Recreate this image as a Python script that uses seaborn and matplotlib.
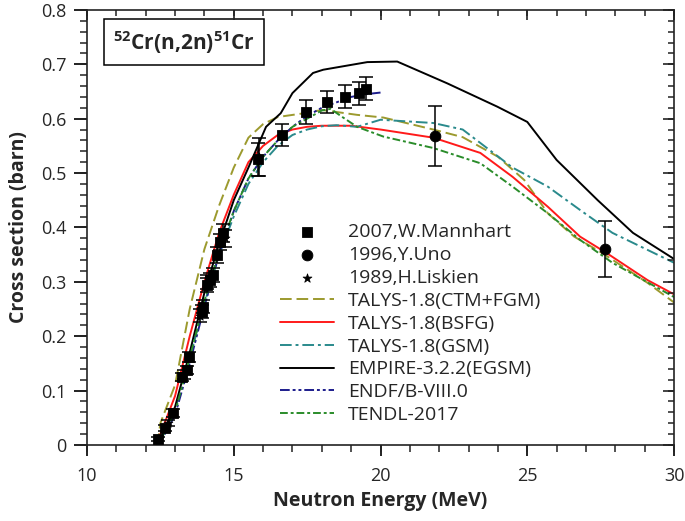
import numpy as np
import pandas as pd
import matplotlib
matplotlib.use("Agg")
import matplotlib.pyplot as plt
from matplotlib.collections import LineCollection
import seaborn as sns

# experimental data (MeV, barn)
mannhart_E = [12.42, 12.66, 12.93, 13.24, 13.41, 13.48, 13.92, 13.96, 14.09, 14.19, 14.30,
              14.43, 14.53, 14.63, 15.82, 16.65, 17.45, 18.18, 18.80, 19.28, 19.50]
mannhart_s = [0.011, 0.031, 0.059, 0.125, 0.138, 0.162, 0.245, 0.254, 0.294, 0.303, 0.313,
              0.349, 0.373, 0.390, 0.525, 0.570, 0.612, 0.630, 0.640, 0.647, 0.655]
mannhart_err = [0.004, 0.006, 0.007, 0.008, 0.008, 0.009, 0.012, 0.012, 0.013, 0.013, 0.013,
                0.015, 0.015, 0.016, 0.030, 0.021, 0.022, 0.020, 0.021, 0.021, 0.021]

uno_E = [21.85, 27.65]
uno_s = [0.568, 0.360]
uno_err = [0.055, 0.052]

liskien_E = [12.75, 13.30, 13.85, 14.10, 14.70, 15.85]
liskien_s = [0.040, 0.130, 0.238, 0.300, 0.380, 0.530]
liskien_err = [0.005, 0.008, 0.012, 0.013, 0.016, 0.035]

# evaluated curves
ctm_E = [12.4, 12.5, 13.0, 13.5, 14.0, 14.5, 15.0, 15.5, 16.0, 16.5, 17.4, 18.0, 19.2, 20.1,
         21.8, 22.8, 24.0, 24.9, 25.7, 26.6, 27.55, 29.1, 30.0]
ctm_s = [0.0, 0.04, 0.11, 0.25, 0.36, 0.44, 0.51, 0.565, 0.59, 0.603, 0.61, 0.616, 0.607, 0.602,
         0.58, 0.566, 0.53, 0.487, 0.426, 0.383, 0.353, 0.298, 0.262]

bsfg_E = [12.4, 12.5, 13.0, 13.5, 14.0, 14.5, 15.0, 15.5, 16.0, 16.5, 17.0, 17.5, 18.0, 19.0,
          20.0, 21.8, 23.4, 24.5, 25.7, 26.8, 27.7, 29.1, 30.0]
bsfg_s = [0.0, 0.02, 0.09, 0.20, 0.30, 0.39, 0.46, 0.52, 0.55, 0.57, 0.58, 0.585, 0.587, 0.587,
          0.580, 0.565, 0.537, 0.493, 0.438, 0.383, 0.353, 0.303, 0.277]

gsm_E = [12.4, 12.5, 13.0, 13.5, 14.0, 14.5, 15.0, 15.5, 16.0, 16.5, 17.0, 17.5, 18.0, 18.5,
         19.2, 20.0, 21.8, 22.8, 24.5, 25.7, 26.8, 27.9, 30.0]
gsm_s = [0.0, 0.01, 0.065, 0.16, 0.26, 0.35, 0.42, 0.48, 0.52, 0.55, 0.57, 0.58, 0.586, 0.588,
         0.585, 0.598, 0.592, 0.58, 0.51, 0.475, 0.432, 0.39, 0.335]

empire_E = [12.4, 12.5, 13.0, 13.5, 14.0, 14.5, 15.0, 15.5, 16.1, 16.6, 17.0, 17.7, 18.05, 19.55,
            20.57, 22.27, 23.98, 25.0, 26.0, 27.4, 28.6, 30.0]
empire_s = [0.0, 0.01, 0.07, 0.17, 0.28, 0.37, 0.45, 0.51, 0.585, 0.61, 0.647, 0.684, 0.69, 0.704,
            0.705, 0.665, 0.622, 0.594, 0.524, 0.45, 0.39, 0.342]

endf_E = [12.4, 12.5, 13.0, 13.5, 14.0, 14.5, 15.0, 15.5, 16.0, 16.5, 17.0, 17.5, 18.0, 18.5,
          19.0, 19.5, 20.0]
endf_s = [0.0, 0.005, 0.055, 0.15, 0.255, 0.35, 0.43, 0.49, 0.53, 0.56, 0.585, 0.605, 0.62, 0.63,
          0.64, 0.645, 0.648]

tendl_E = [12.4, 12.5, 13.0, 13.5, 14.0, 14.5, 15.0, 15.5, 16.0, 16.5, 17.0, 17.5, 18.0, 18.3,
           18.7, 19.2, 20.1, 21.8, 23.4, 24.5, 25.7, 26.8, 27.9, 30.0]
tendl_s = [0.0, 0.008, 0.06, 0.16, 0.265, 0.355, 0.43, 0.49, 0.53, 0.56, 0.585, 0.60, 0.615, 0.618,
           0.603, 0.585, 0.567, 0.546, 0.518, 0.475, 0.426, 0.377, 0.335, 0.272]

curves = [
    ("TALYS-1.8(CTM+FGM)", ctm_E, ctm_s, "#9c9a2e", (0, (6, 2.5))),
    ("TALYS-1.8(BSFG)", bsfg_E, bsfg_s, "#ff1a1a", "-"),
    ("TALYS-1.8(GSM)", gsm_E, gsm_s, "#2a8a8c", (0, (6, 2, 1.5, 2))),
    ("EMPIRE-3.2.2(EGSM)", empire_E, empire_s, "black", "-"),
    ("ENDF/B-VIII.0", endf_E, endf_s, "#1c1c8c", (0, (5, 1.5, 1.5, 1.5, 1.5, 1.5))),
    ("TENDL-2017", tendl_E, tendl_s, "#2a8c2a", (0, (4, 1.5, 1.5, 1.5))),
]

tick_col = "#222222"
sns.set_style("ticks")
plt.rcParams["font.family"] = ["Open Sans", "DejaVu Sans"]
plt.rcParams["mathtext.fontset"] = "custom"
plt.rcParams["mathtext.bf"] = "Open Sans:bold"
plt.rcParams["mathtext.rm"] = "Open Sans"

fig = plt.figure(figsize=(6.85, 5.21), dpi=100)
ax = fig.add_axes([0.127, 0.146, 0.857, 0.835])

for name, E, s, col, ls in curves:
    df = pd.DataFrame({"E": E, "s": s})
    sns.lineplot(data=df, x="E", y="s", color=col, linestyle=ls, linewidth=1.4,
                 estimator=None, sort=False, label=name, ax=ax, zorder=2)

# error bars
for E, s, err in [(mannhart_E, mannhart_s, mannhart_err), (uno_E, uno_s, uno_err),
                  (liskien_E, liskien_s, liskien_err)]:
    ax.errorbar(E, s, yerr=err, fmt="none", ecolor="black", elinewidth=1.1,
                capsize=5, capthick=1.1, zorder=3)

sns.scatterplot(x=mannhart_E, y=mannhart_s, marker="s", s=55, color="black",
                edgecolor="black", label="2007,W.Mannhart", ax=ax, zorder=4)
sns.scatterplot(x=uno_E, y=uno_s, marker="o", s=60, color="black",
                edgecolor="black", label="1996,Y.Uno", ax=ax, zorder=4)
sns.scatterplot(x=liskien_E, y=liskien_s, marker="*", s=45, color="black",
                edgecolor="black", label="1989,H.Liskien", ax=ax, zorder=4)

ax.set_xlim(10, 30)
ax.set_ylim(0, 0.8)
x_major = np.arange(10, 31, 5)
x_minor = np.arange(10, 31, 1)
y_major = np.arange(0, 0.81, 0.1)
y_minor = np.arange(0, 0.801, 0.02)
ax.set_xticks(x_major)
ax.set_yticks(y_major)
ax.set_yticklabels(["0", "0.1", "0.2", "0.3", "0.4", "0.5", "0.6", "0.7", "0.8"])
ax.tick_params(axis="x", which="major", direction="out", length=8, width=1.2,
               color=tick_col, labelsize=13, pad=8)
ax.tick_params(axis="y", which="major", direction="out", length=9.5, width=1.2,
               color=tick_col, labelsize=13, pad=5)
for sp in ax.spines.values():
    sp.set_linewidth(1.2)
    sp.set_color(tick_col)

# tick marks drawn at figure level: outward on bottom/left, inward on top/right
xt = ax.get_xaxis_transform()
yt = ax.get_yaxis_transform()


def tick_segs(pos, a, b, vertical):
    if vertical:
        return [[(p, a), (p, b)] for p in pos]
    return [[(a, p), (b, p)] for p in pos]


for pos, a, b, vert, tr, lw in [
    (x_major, -0.026, 0, True, xt, 1.2), (x_minor, -0.017, 0, True, xt, 1.1),
    (x_major, 1 - 0.023, 1, True, xt, 1.2), (x_minor, 1 - 0.013, 1, True, xt, 1.1),
    (y_major, -0.022, 0, False, yt, 1.2), (y_minor, -0.012, 0, False, yt, 1.1),
    (y_major, 1 - 0.018, 1, False, yt, 1.2), (y_minor, 1 - 0.010, 1, False, yt, 1.1),
]:
    lc = LineCollection(tick_segs(pos, a, b, vert), colors=tick_col, linewidths=lw,
                        transform=tr, clip_on=False, zorder=6)
    fig.add_artist(lc)

ax.set_xlabel("Neutron Energy (MeV)", fontsize=14, fontweight="bold", labelpad=4)
ax.set_ylabel("Cross section (barn)", fontsize=14, fontweight="bold", labelpad=9)

ax.text(0.165, 0.926, r"$^{\mathbf{52}}$Cr(n,2n)$^{\mathbf{51}}$Cr", transform=ax.transAxes,
        ha="center", va="center", fontsize=15, fontweight="bold", zorder=10,
        bbox=dict(boxstyle="square,pad=0.45", facecolor="white", edgecolor="black", linewidth=1.1))

handles, labels = ax.get_legend_handles_labels()
order = [labels.index(n) for n in ["2007,W.Mannhart", "1996,Y.Uno", "1989,H.Liskien"]] + \
        [labels.index(c[0]) for c in curves]
ax.legend([handles[i] for i in order], [labels[i] for i in order], loc="upper left",
          bbox_to_anchor=(0.312, 0.532), frameon=False, fontsize=14, handlelength=2.8,
          handletextpad=0.7, labelspacing=0.25, borderpad=0)

fig.savefig("out.png", dpi=100)
